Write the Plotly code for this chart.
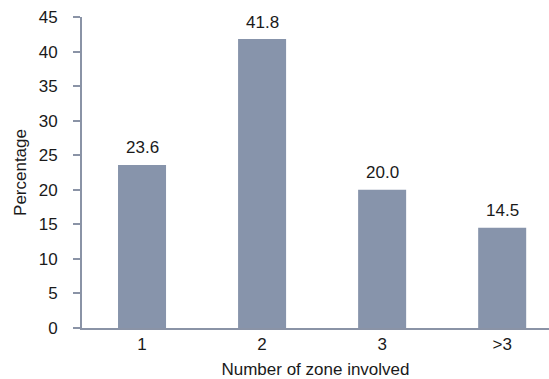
import plotly.graph_objects as go

categories = ["1", "2", "3", ">3"]
values = [23.6, 41.8, 20.0, 14.5]
labels = ["23.6", "41.8", "20.0", "14.5"]

FONT = "Liberation Sans, Arial"
TXT = "#1a1a1a"

fig = go.Figure(go.Bar(
    x=categories, y=values,
    marker=dict(color="#8794AB", line=dict(width=0)),
    width=0.4,
))
for i, (v, t) in enumerate(zip(values, labels)):
    fig.add_annotation(x=i, y=v, text=t, showarrow=False, yanchor="middle",
                       yshift=17, font=dict(family=FONT, size=17, color=TXT))
fig.update_layout(
    width=549, height=379,
    margin=dict(l=82, r=0, t=17, b=51),
    plot_bgcolor="white", paper_bgcolor="white",
    font=dict(family=FONT, size=17, color=TXT),
    showlegend=False,
)
fig.update_xaxes(
    type="category",
    range=[-0.5, 3.39], showline=True, linecolor="#8A93A6", linewidth=2,
    ticks="", showgrid=False, zeroline=False, ticklabelstandoff=0,
    title=dict(text="Number of zone involved", font=dict(size=17), standoff=13),
)
fig.update_yaxes(
    range=[0, 45], dtick=5, showline=True, linecolor="#8A93A6", linewidth=2,
    ticks="outside", ticklen=7, tickcolor="#8A93A6", tickwidth=2,
    showgrid=False, zeroline=False, ticklabelstandoff=12,
    title=dict(text="Percentage", font=dict(size=17), standoff=8),
)
fig.write_html("out.html")
